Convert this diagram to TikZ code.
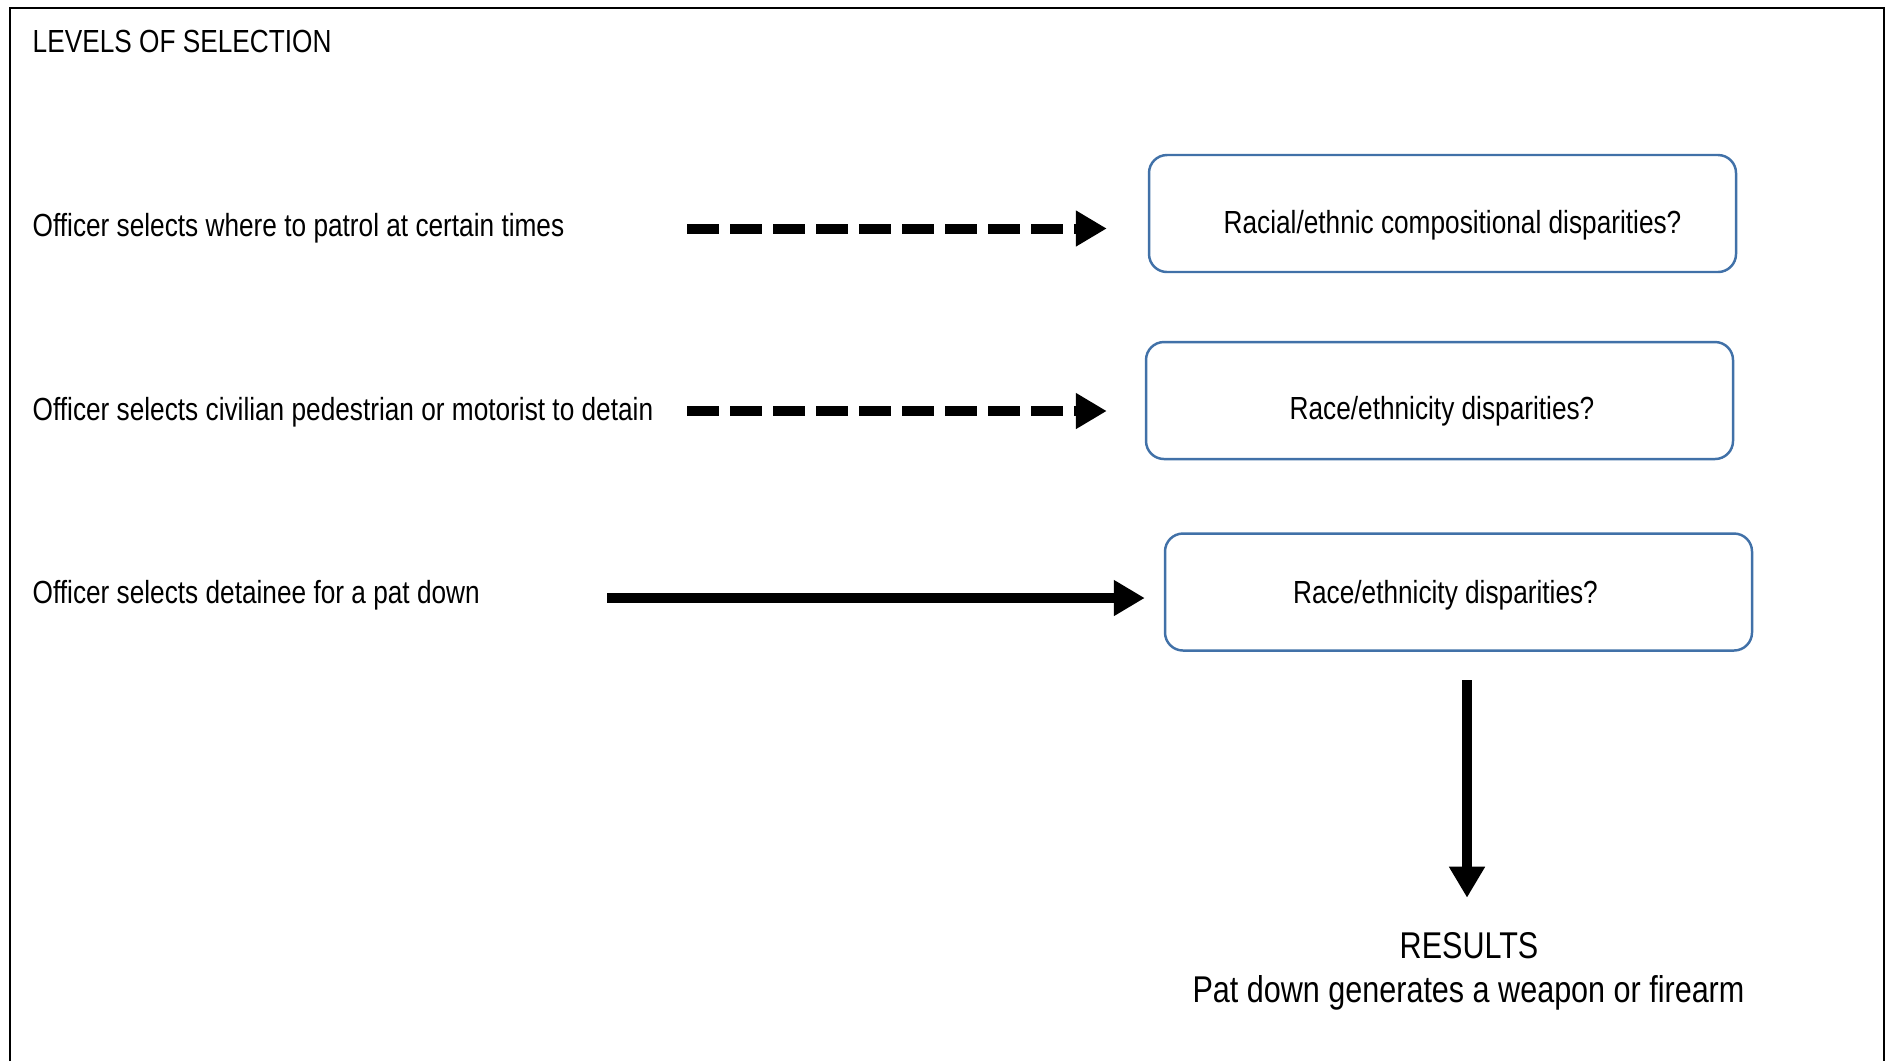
\documentclass[tikz,border=0pt]{standalone}
\usepackage{fontspec}
\setmainfont{Liberation Sans}[FakeStretch=0.82]
\usetikzlibrary{arrows.meta}
\definecolor{boxblue}{RGB}{65,113,168}
\newcommand{\qlabel}[3]{\raisebox{#2}[\height][\depth]{\hspace*{#1}#3}}
\tikzset{
    lbl/.style={anchor=base west,inner sep=0pt,font=\fontsize{9.1pt}{11pt}\selectfont},
    qbox/.style={draw=boxblue,line width=0.7pt,rounded corners=0.18cm,minimum width=5.87cm,minimum height=1.17cm,inner sep=0pt,font=\fontsize{9.1pt}{11pt}\selectfont},
    dasharrow/.style={line width=0.1cm,dash pattern=on 0.32cm off 0.11cm,-{Triangle[length=0.31cm,width=0.34cm]}},
    fullarrow/.style={line width=0.105cm,-{Triangle[length=0.31cm,width=0.34cm]}},
    restext/.style={anchor=base,inner sep=0pt,font=\fontsize{10.6pt}{12.5pt}\selectfont}
}
\begin{document}
\begin{tikzpicture}
                \useasboundingbox (0,0) rectangle (18.86,-10.61);
                \draw[line width=0.6pt] (0.10,-10.61) -- (0.10,-0.08) -- (18.84,-0.08) -- (18.84,-10.61);
                \node[lbl] (title) at (0.32,-0.524) {LEVELS OF SELECTION};
                \node[lbl] (lvl1) at (0.32,-2.364) {Officer selects where to patrol at certain times};
                \node[lbl] (lvl2) at (0.32,-4.204) {Officer selects civilian pedestrian or motorist to detain};
                \node[lbl] (lvl3) at (0.32,-6.034) {Officer selects detainee for a pat down};
                \node[qbox] (box1) at (14.425,-2.135) {\qlabel{0.2cm}{-0.12cm}{Racial/ethnic compositional disparities?}};
                \node[qbox] (box2) at (14.395,-4.005) {\qlabel{0.05cm}{-0.11cm}{Race/ethnicity disparities?}};
                \node[qbox] (box3) at (14.585,-5.92) {\qlabel{-0.26cm}{-0.03cm}{Race/ethnicity disparities?}};
                \node[restext] (results) at (14.69,-9.584) {RESULTS};
                \node[restext] (outcome) at (14.685,-10.024) {Pat down generates a weapon or firearm};
                \coordinate (d1) at (6.87,-2.285);
                \coordinate (d2) at (6.87,-4.11);
                \coordinate (s3) at (6.07,-5.98);
                \coordinate (v0) at (14.67,-6.80);
                \draw[dasharrow,shorten >=0.41cm] (d1) -- (d1 -| box1.west);
                \draw[dasharrow,shorten >=0.38cm] (d2) -- (d2 -| box2.west);
                \draw[fullarrow,shorten >=0.19cm] (s3) -- (s3 -| box3.west);
                \draw[fullarrow,shorten >=0.34cm] (v0) -- (v0 |- results.north);
\end{tikzpicture}
\end{document}
